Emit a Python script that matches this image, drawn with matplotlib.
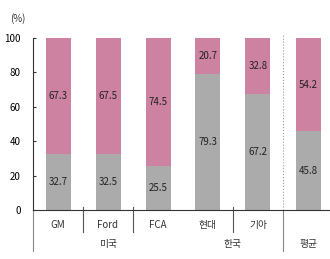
import matplotlib
matplotlib.use('Agg')
import matplotlib.pyplot as plt
import numpy as np

plt.rcParams['font.family'] = ['Noto Sans CJK KR', 'DejaVu Sans']

names = ['GM', 'Ford', 'FCA', '현대', '기아', '']
gray_vals = [32.7, 32.5, 25.5, 79.3, 67.2, 45.8]
pink_vals = [67.3, 67.5, 74.5, 20.7, 32.8, 54.2]
groups = ['미국', '한국', '평균']
group_pos = [1, 3.5, 5]

pink = '#CE82A2'
gray = '#ABABAB'

fig = plt.figure(figsize=(3.3, 2.59), dpi=100)
ax = fig.add_axes([0.1, 0.189, 0.9, 0.664])

x = np.arange(len(names))
ax.bar(x, gray_vals, width=0.5, color=gray)
ax.bar(x, pink_vals, bottom=gray_vals, width=0.5, color=pink)

for i in range(len(names)):
    ax.text(x[i], gray_vals[i] / 2, '%.1f' % gray_vals[i], ha='center', va='center', fontsize=7, color='#222222')
    ax.text(x[i], gray_vals[i] + pink_vals[i] / 2, '%.1f' % pink_vals[i], ha='center', va='center', fontsize=7, color='#222222')

ax.set_xlim(-0.5, 5.44)
ax.set_ylim(0, 100)
ax.set_yticks(np.arange(0, 101, 20))
ax.tick_params(axis='y', direction='in', length=2, pad=9, labelsize=7, color='#333333')
ax.set_xticks([])
for s in ['top', 'right']:
    ax.spines[s].set_visible(False)
ax.spines['left'].set_color('#333333')
ax.spines['bottom'].set_color('#333333')

# dotted divider before the average
ax.axvline(4.5, ymin=0, ymax=1.02, color='#999999', lw=0.8, ls=':', clip_on=False)

tr = ax.get_xaxis_transform()
for xs in [0.5, 1.5, 3.5]:
    ax.plot([xs, xs], [0.02, -0.13], transform=tr, color='#555555', lw=0.8, clip_on=False)
for xs in [-0.5, 4.5]:
    ax.plot([xs, xs], [0, -0.24], transform=tr, color='#888888', lw=0.8, clip_on=False)

for i in range(len(names)):
    ax.text(x[i], -0.085, names[i], transform=tr, ha='center', va='center', fontsize=7, color='#333333')
for g, p in zip(groups, group_pos):
    ax.text(p, -0.195, g, transform=tr, ha='center', va='center', fontsize=7, color='#333333')

fig.text(0.055, 0.93, '(%)', ha='center', va='center', fontsize=7, color='#333333')

plt.savefig('out.png', dpi=100)
